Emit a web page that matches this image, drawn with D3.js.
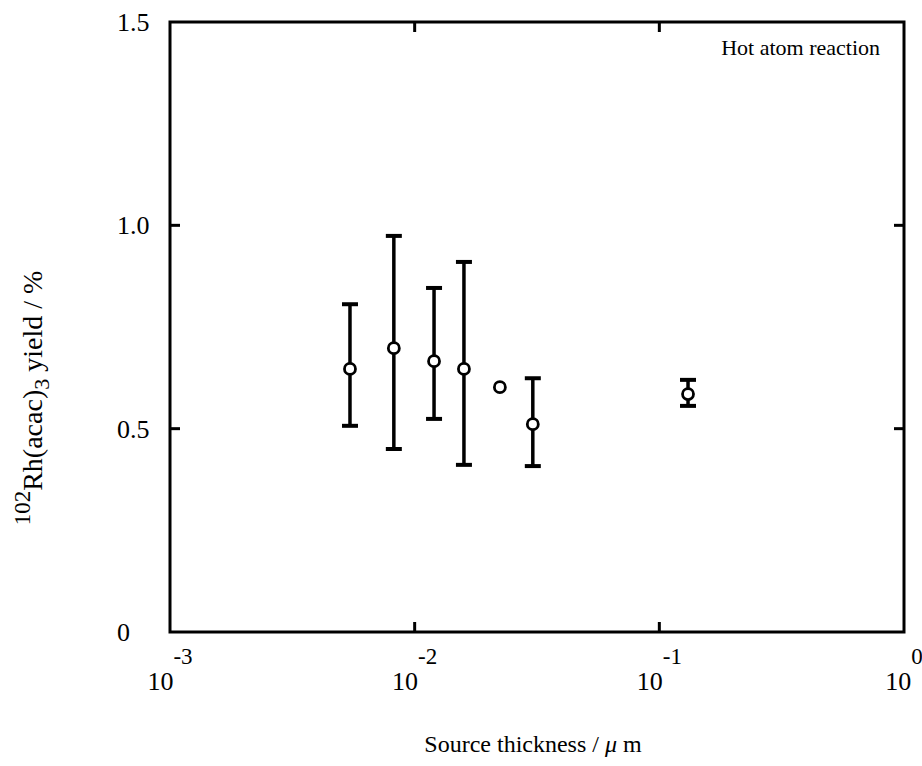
<!DOCTYPE html>
<html>
<head>
<meta charset="utf-8">
<script src="https://d3js.org/d3.v7.min.js"></script>
<style>
  body { margin: 0; background: #fff; }
  svg text { font-family: "Liberation Serif", "DejaVu Serif", serif; fill: #000; }
</style>
</head>
<body>
<svg width="922" height="766"></svg>
<script>
// thickness (um) and yield (%) with error bar ends
const thickness = [0.00544, 0.00822, 0.0120, 0.0159, 0.0223, 0.0304, 0.131];
const yieldPct  = [0.647, 0.698, 0.666, 0.647, 0.602, 0.511, 0.585];
const yieldLow  = [0.507, 0.450, 0.524, 0.411, null, 0.408, 0.556];
const yieldHigh = [0.806, 0.974, 0.846, 0.910, null, 0.624, 0.620];

const yTicks = [0, 0.5, 1.0, 1.5];
const yTickLabels = ["0", "0.5", "1.0", "1.5"];
const xTicks = [1e-3, 1e-2, 1e-1, 1e0];
const xExponents = ["-3", "-2", "-1", "0"];

let svg = d3.select("svg"),
  margin = { top: 22, left: 170, right: 18, bottom: 134 },
  width = +svg.attr("width") - margin.left - margin.right,
  height = +svg.attr("height") - margin.top - margin.bottom,
  g = svg.append("g").attr("transform", "translate(" + margin.left + "," + margin.top + ")");

let x = d3.scaleLog().domain([1e-3, 1]).range([0, width]),
  y = d3.scaleLinear().domain([0, 1.5]).range([height, 0]);

// frame
g.append("rect")
  .attr("width", width).attr("height", height)
  .attr("fill", "none").attr("stroke", "#000").attr("stroke-width", 3);

// inward ticks
const tickLen = 10;
yTicks.slice(1, 3).forEach(function(t) {
  g.append("line").attr("x1", 0).attr("x2", tickLen).attr("y1", y(t)).attr("y2", y(t))
    .attr("stroke", "#000").attr("stroke-width", 3);
  g.append("line").attr("x1", width - tickLen).attr("x2", width).attr("y1", y(t)).attr("y2", y(t))
    .attr("stroke", "#000").attr("stroke-width", 3);
});
xTicks.slice(1, 3).forEach(function(t) {
  g.append("line").attr("x1", x(t)).attr("x2", x(t)).attr("y1", height).attr("y2", height - tickLen)
    .attr("stroke", "#000").attr("stroke-width", 3);
  g.append("line").attr("x1", x(t)).attr("x2", x(t)).attr("y1", 0).attr("y2", tickLen)
    .attr("stroke", "#000").attr("stroke-width", 3);
});

// y tick labels
yTicks.forEach(function(t, i) {
  g.append("text")
    .attr("x", -53).attr("y", y(t)).attr("dy", "0.35em")
    .attr("font-size", 26)
    .text(yTickLabels[i]);
});

// x tick labels: 10 with exponent
xTicks.forEach(function(t, i) {
  let tx = g.append("text")
    .attr("x", x(t)).attr("y", height + 58)
    .attr("text-anchor", "middle")
    .attr("font-size", 26);
  tx.append("tspan").text("10");
  tx.append("tspan").attr("dy", -26).attr("font-size", 23).text(xExponents[i]);
});

// error bars
const cap = 8;
thickness.forEach(function(d, i) {
  if (yieldLow[i] == null) return;
  let cx = x(d);
  g.append("line").attr("x1", cx).attr("x2", cx).attr("y1", y(yieldLow[i])).attr("y2", y(yieldHigh[i]))
    .attr("stroke", "#000").attr("stroke-width", 3.5);
  [yieldLow[i], yieldHigh[i]].forEach(function(v) {
    g.append("line").attr("x1", cx - cap).attr("x2", cx + cap).attr("y1", y(v)).attr("y2", y(v))
      .attr("stroke", "#000").attr("stroke-width", 4);
  });
});

// points
g.selectAll(".pt")
  .data(thickness)
  .enter().append("circle")
  .attr("class", "pt")
  .attr("cx", function(d) { return x(d); })
  .attr("cy", function(d, i) { return y(yieldPct[i]); })
  .attr("r", 5.5)
  .attr("fill", "#fff").attr("stroke", "#000").attr("stroke-width", 2.8);

// annotation
g.append("text")
  .attr("x", width - 24).attr("y", 33)
  .attr("text-anchor", "end")
  .attr("font-size", 22)
  .text("Hot atom reaction");

// x axis title
let xt = svg.append("text")
  .attr("x", margin.left + width / 2 - 4).attr("y", 752)
  .attr("text-anchor", "middle")
  .attr("font-size", 24);
xt.append("tspan").text("Source thickness /  ");
xt.append("tspan").attr("font-style", "italic").text("\u03bc");
xt.append("tspan").text(" m");

// y axis title
let yt = svg.append("text")
  .attr("transform", "translate(42," + 398 + ") rotate(-90)")
  .attr("text-anchor", "middle")
  .attr("font-size", 28);
yt.append("tspan").attr("font-size", 23).attr("dy", -12).text("102");
yt.append("tspan").attr("dy", 12).text("Rh(acac)");
yt.append("tspan").attr("dy", 7).attr("font-size", 22).text("3");
yt.append("tspan").attr("dy", -7).text(" yield / %");
</script>
</body>
</html>
